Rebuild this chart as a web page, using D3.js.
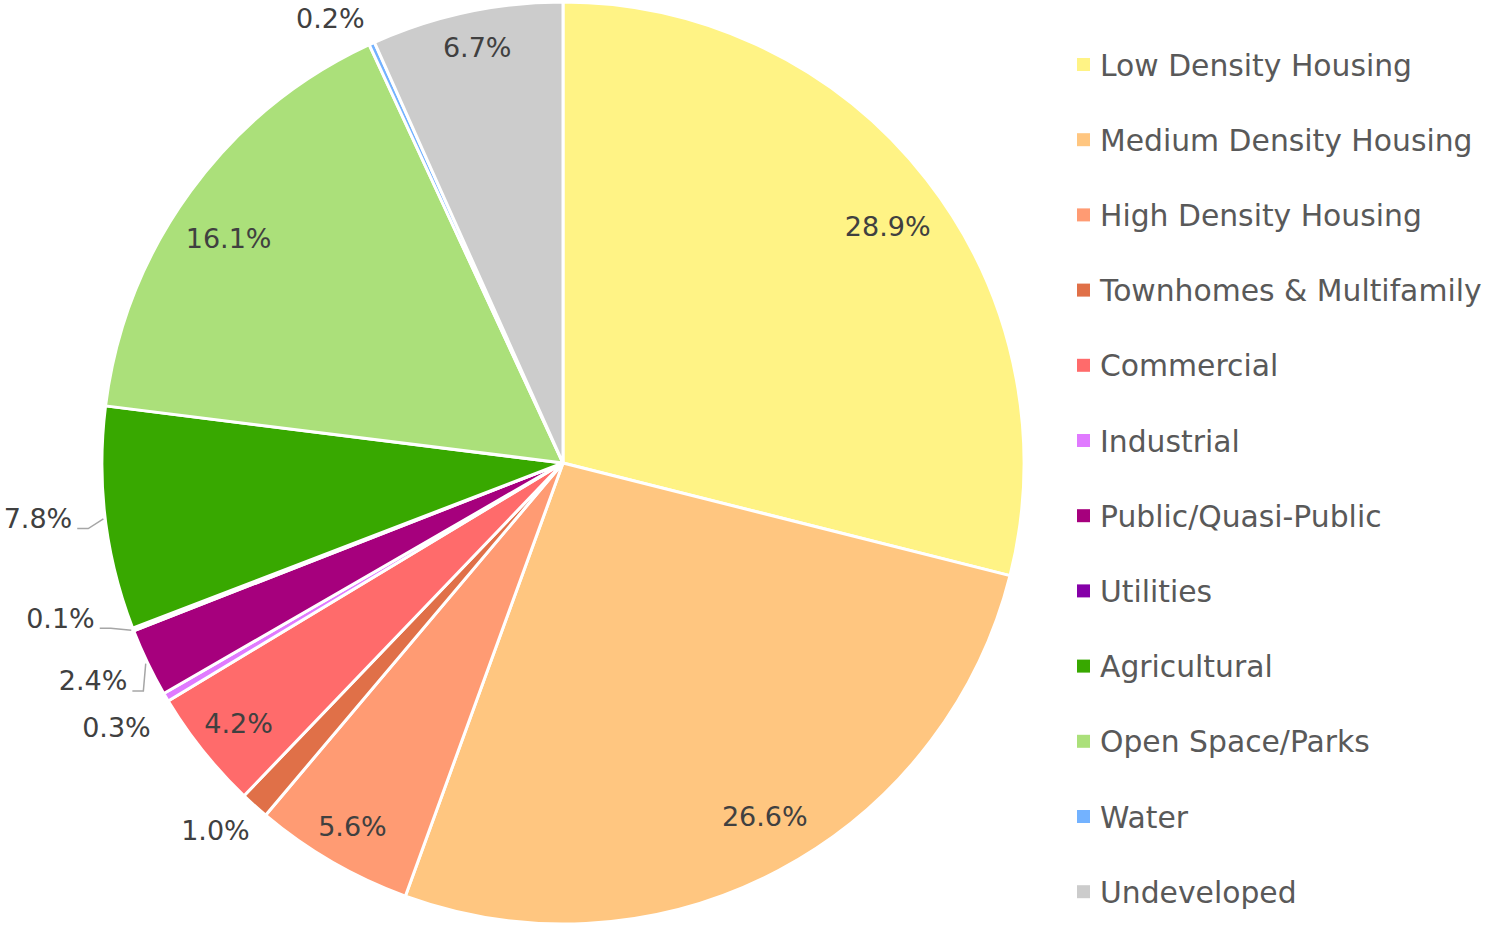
<!DOCTYPE html>
<html><head><meta charset="utf-8">
<script src="https://cdn.jsdelivr.net/npm/d3@7"></script>
<style>html,body{margin:0;padding:0;background:#fff;}svg{display:block;}</style>
</head><body>
<svg id="chart" width="1493" height="925"></svg>
<script>
const categories = ["Low Density Housing","Medium Density Housing","High Density Housing","Townhomes & Multifamily","Commercial","Industrial","Public/Quasi-Public","Utilities","Agricultural","Open Space/Parks","Water","Undeveloped"];
const values = [28.9, 26.6, 5.6, 1.0, 4.2, 0.3, 2.4, 0.1, 7.8, 16.1, 0.2, 6.7];
const colors = ["#FFF385","#FFC680","#FF9B73","#E07048","#FF6B6B","#E07AFF","#A6007D","#8500A8","#38A800","#ABE07A","#73B2FF","#CCCCCC"];

// label layout: radius from centre, angle nudge (deg), leader line flag
const labelLayout = [
  {r:402, da:1.8}, {r:407, da:-1.8}, {r:420, da:0}, {r:506, da:1.4},
  {r:416, da:-0.1}, {r:519, da:-0.1}, {r:518, da:0.8, leader:true}, {r:526, da:4.0, leader:true},
  {r:528, da:0.9, leader:true}, {r:403, da:-2.2}, {r:502, da:-3.1}, {r:424, da:0.4}
];

const svg = d3.select("#chart");
const cx = 563, cy = 463, R = 461;
const g = svg.append("g").attr("transform", `translate(${cx},${cy})`);
const data = categories.map((c,i)=>({name:c, value:values[i], color:colors[i], lay:labelLayout[i]}));
const pie = d3.pie().value(d=>d.value).sort(null);
const arcs = pie(data);
const arc = d3.arc().innerRadius(0).outerRadius(R);

g.selectAll("path.slice").data(arcs).join("path")
  .attr("class","slice")
  .attr("d", arc)
  .attr("fill", d=>d.data.color)
  .attr("stroke","#fff").attr("stroke-width",3).attr("stroke-linejoin","round");

const polar = (a, r) => [r*Math.sin(a), -r*Math.cos(a)];
const fmt = v => v.toFixed(1) + "%";

const labels = g.selectAll("text.lbl").data(arcs).join("text")
  .attr("class","lbl")
  .attr("font-family","DejaVu Sans, sans-serif")
  .attr("font-size",27)
  .attr("fill","#404040")
  .attr("text-anchor","middle")
  .attr("dominant-baseline","central")
  .each(function(d){
    const mid = (d.startAngle+d.endAngle)/2 + d.data.lay.da*Math.PI/180;
    const [x,y] = polar(mid, d.data.lay.r);
    d3.select(this).attr("x",x).attr("y",y).text(fmt(d.data.value));
  });

// leader lines
labels.filter(d=>d.data.lay.leader).each(function(d){
  const bb = this.getBBox();
  const mid = (d.startAngle+d.endAngle)/2;
  const [ex,ey] = polar(mid, R+2);
  const lx = bb.x+bb.width+5, ly = bb.y+bb.height/2+10;
  g.append("polyline")
    .attr("points", [[lx,ly],[lx+11,ly],[ex,ey]].map(p=>p.join(",")).join(" "))
    .attr("fill","none").attr("stroke","#A6A6A6").attr("stroke-width",1.5);
});

// legend
const leg = svg.append("g").attr("transform","translate(1077,65)");
const step = 75.2;
const items = leg.selectAll("g").data(data).join("g")
  .attr("transform",(d,i)=>`translate(0,${i*step})`);
items.append("rect").attr("x",0).attr("y",-7).attr("width",13).attr("height",13).attr("fill",d=>d.color);
items.append("text").attr("x",23).attr("y",0)
  .attr("dominant-baseline","central")
  .attr("font-family","DejaVu Sans, sans-serif").attr("font-size",29.8).attr("fill","#595959")
  .text(d=>d.name);
</script>
</body></html>
